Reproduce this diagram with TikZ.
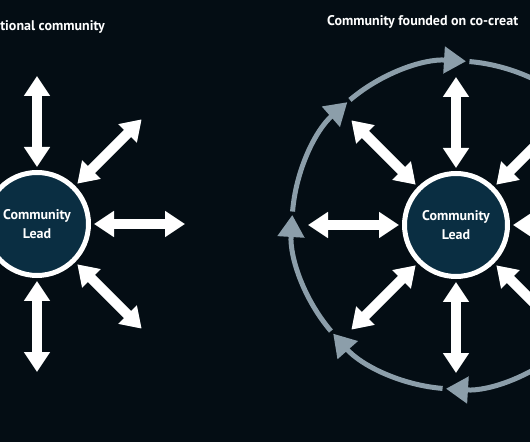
\documentclass[tikz,border=0pt]{standalone}
\usepackage{fontspec}
\setmainfont{PT Sans}
\usetikzlibrary{arrows.meta}
\definecolor{bg}{RGB}{4,13,20}
\definecolor{hubblue}{RGB}{10,46,66}
\definecolor{ringgray}{RGB}{140,158,170}
\tikzset{
  hub/.style={circle,draw=white,line width=5pt,fill=hubblue,minimum size=103pt,inner sep=0pt,
    text=white,font=\bfseries\fontsize{14}{19}\selectfont,align=center},
  spoke/.style={white,line width=10pt,{Triangle[length=20pt,width=25pt]}-{Triangle[length=20pt,width=25pt]},shorten <=3pt},
  cyclearc/.style={ringgray,line width=5pt,-{Triangle[length=22pt,width=26pt]}},
  heading/.style={text=white,font=\bfseries\fontsize{14}{16}\selectfont,inner sep=0pt}
}
\begin{document}
\begin{tikzpicture}[x=1pt,y=1pt]
  \fill[bg] (0,0) rectangle (530,442);
  \useasboundingbox (0,0) rectangle (530,442);
  \clip (0,0) rectangle (530,442);
  \node[heading,anchor=base east] (trad) at (105,411) {tional community};
  \node[heading,anchor=base west] (cocreate) at (327,416.5) {Community founded on co-creat};
  \node[hub] (lead) at (37,218) {Community\\Lead};
  \node[hub] (colead) at (456,217) {Community\\Lead};
  \foreach \a in {0,45,...,315} {
    \draw[spoke] (lead.\a) -- ++(\a:94);
    \draw[spoke] (colead.\a) -- ++(\a:94);
  }
  \foreach \a in {86.5,131.5,...,401.5}
    \draw[cyclearc] (colead.center) ++({\a+43.8}:164) arc[start angle=\a+43.8, end angle=\a, radius=164];
\end{tikzpicture}
\end{document}
